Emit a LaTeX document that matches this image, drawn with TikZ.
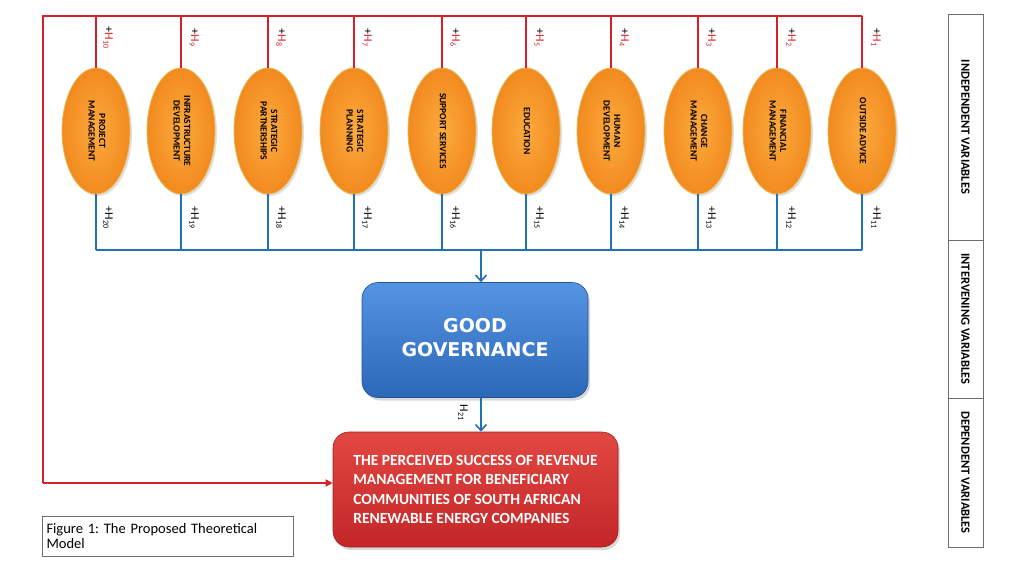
\documentclass[tikz,border=0pt]{standalone}
\usepackage{fontspec}
\usepackage{graphicx}
\setmainfont{Carlito}
\newfontfamily\ggfont{DejaVu Sans}
\usetikzlibrary{shapes.geometric,arrows.meta,shadows}
\definecolor{redline}{RGB}{214,32,40}
\definecolor{blueline}{RGB}{36,112,180}
\definecolor{orangein}{RGB}{252,170,62}
\definecolor{orangeout}{RGB}{242,138,30}
\definecolor{orangeedge}{RGB}{232,186,84}
\definecolor{ggtop}{RGB}{84,148,226}
\definecolor{ggbot}{RGB}{44,104,184}
\definecolor{rtop}{RGB}{226,72,66}
\definecolor{rbot}{RGB}{196,38,40}
\definecolor{panelline}{RGB}{110,110,110}
\frenchspacing
\tikzset{
  ell/.style={shape=ellipse, draw=orangeedge, line width=0.8pt, inner color=orangein, outer color=orangeout,
    minimum width=68pt, minimum height=126pt, inner sep=0pt,
    drop shadow={opacity=0.25, shadow xshift=2pt, shadow yshift=-2pt},
    font=\fontsize{9.5}{10.5}\selectfont\bfseries},
  toplab/.style={rotate=-90, inner sep=0pt, text=black, font=\fontsize{12}{12}\selectfont},
  botlab/.style={rotate=-90, inner sep=0pt, text=black, font=\fontsize{12}{12}\selectfont},
  redl/.style={draw=redline, line width=1.6pt},
  bluel/.style={draw=blueline, line width=1.6pt},
  ggbox/.style={rectangle, rounded corners=16pt, draw=ggbot!80!black, line width=0.6pt,
    top color=ggtop, bottom color=ggbot, minimum width=226pt, minimum height=115pt,
    drop shadow={opacity=0.3, shadow xshift=2pt, shadow yshift=-3pt},
    text=white, font=\ggfont\bfseries\fontsize{19}{24}\selectfont, align=center},
  rbox/.style={rectangle, rounded corners=16pt, draw=rbot!80!black, line width=0.6pt,
    top color=rtop, bottom color=rbot, minimum width=285pt, minimum height=115pt,
    drop shadow={opacity=0.3, shadow xshift=2pt, shadow yshift=-3pt},
    text=white, font=\bfseries\fontsize{15.5}{19.5}\selectfont, align=left},
  panel/.style={rectangle, draw=panelline, line width=0.8pt, minimum width=35pt, inner sep=0pt},
  paneltext/.style={rotate=-90, font=\bfseries\fontsize{12.5}{13}\selectfont, inner sep=0pt},
}
\newcommand{\rot}[1]{\rotatebox{-90}{\begin{tabular}{@{}c@{}}#1\end{tabular}}}
\begin{document}
\begin{tikzpicture}[x=1pt,y=-1pt]
\useasboundingbox[fill=white] (0,0) rectangle (1024,576);

% ellipses (e1 = rightmost)
\node[ell] (e10) at (96,131) {\rot{PROJECT\\MANAGEMENT}};
\node[ell] (e9) at (181,131) {\rot{INFRASTRUCTURE\\DEVELOPMENT}};
\node[ell] (e8) at (268,131) {\rot{STRATEGIC\\PARTNERSHIPS}};
\node[ell] (e7) at (354,131) {\rot{STRATEGIC\\PLANNING}};
\node[ell] (e6) at (442,131) {\rot{SUPPORT SERVICES}};
\node[ell] (e5) at (526,131) {\rot{EDUCATION}};
\node[ell] (e4) at (611,131) {\rot{HUMAN\\DEVELOPMENT}};
\node[ell] (e3) at (698,131) {\rot{CHANGE\\MANAGEMENT}};
\node[ell] (e2) at (777,131) {\rot{FINANCIAL\\MANAGEMENT}};
\node[ell] (e1) at (862,131) {\rot{OUTSIDE ADVICE}};

% top coordinates
\coordinate (tl) at (43,16);
\coordinate (bl) at (43,483);
\foreach \i in {1,...,10} {
  \coordinate (t\i) at (e\i.north |- tl);
  \coordinate (b\i) at (e\i.south |- 0,250);
}
\coordinate (bj) at (481,250);

% red lines
\draw[redl] (t1) -- (tl) -- (bl);
\foreach \i in {1,...,10} { \draw[redl] (t\i) -- (e\i.north); }

% blue lines
\draw[bluel] (b10) -- (b1);
\foreach \i in {1,...,10} { \draw[bluel] (e\i.south) -- (b\i); }

% boxes
\node[ggbox] (gg) at (475,340) {\raisebox{3pt}{\begin{tabular}{@{}c@{}}GOOD\\[0pt]GOVERNANCE\end{tabular}}};
\node[rbox] (rb) at (475.5,489.5) {THE PERCEIVED SUCCESS OF REVENUE\\MANAGEMENT FOR BENEFICIARY\\COMMUNITIES OF SOUTH AFRICAN\\RENEWABLE ENERGY COMPANIES};

\draw[bluel, -{Straight Barb[length=6pt,width=11pt,line width=1.6pt]}] (bj) -- (bj |- gg.north);
\draw[bluel, -{Straight Barb[length=6pt,width=11pt,line width=1.6pt]}] (bj |- gg.south) -- (bj |- rb.north);
\draw[redl, -{Triangle[length=7pt,width=7pt]}] (bl) -- (bl -| rb.west);

% labels top
\foreach \i/\x in {10/108,9/194,8/281,7/367,6/455,5/539,4/624,3/711,2/791,1/876} {
  \node[toplab] (ht\i) at (\x,38) {+\textcolor{redline}{H\textsubscript{\i}}};
}
% labels bottom
\foreach \i/\x/\n in {10/108/20,9/194/19,8/281/18,7/367/17,6/455/16,5/539/15,4/624/14,3/711/13,2/791/12,1/876/11} {
  \node[botlab] (hb\i) at (\x,218) {+H\textsubscript{\n}};
}
\node[botlab] (h21) at (463,413) {H\textsubscript{21}};

% right panel
\node[panel, minimum height=226pt] (p1) at (965.5,127) {};
\node[panel, minimum height=158pt] (p2) at (965.5,319) {};
\node[panel, minimum height=149pt] (p3) at (965.5,472.5) {};
\node[paneltext] (p1t) at (p1.center) {INDEPENDENT VARIABLES};
\node[paneltext] (p2t) at (p2.center) {INTERVENING VARIABLES};
\node[paneltext] (p3t) at (p3.center) {DEPENDENT VARIABLES};

% caption
\node[rectangle, draw=panelline, line width=0.8pt, minimum width=251pt, minimum height=40pt,
  text width=242pt, align=left, font=\fontsize{14.5}{15}\selectfont] (cap) at (167.5,536)
  {Figure 1: The Proposed Theoretical\\Model};
\end{tikzpicture}
\end{document}
